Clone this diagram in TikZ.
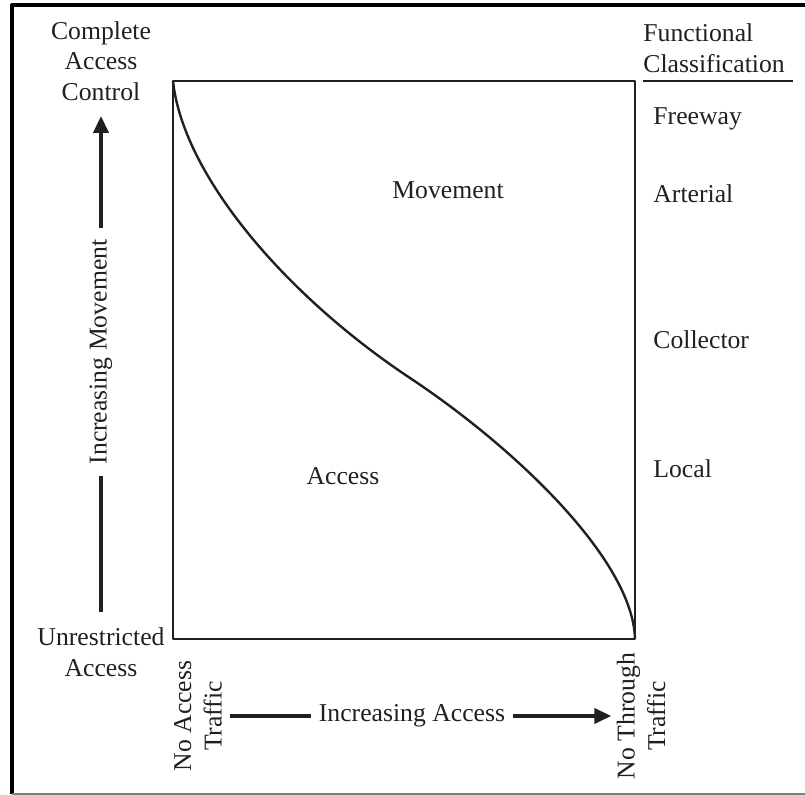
\documentclass[tikz,border=0pt]{standalone}
\usepackage{fontspec}
\setmainfont{Liberation Serif}
\usetikzlibrary{arrows.meta}

\definecolor{ink}{RGB}{35,31,32}

\begin{document}
\begin{tikzpicture}[
        x = 0.5pt, y = -0.5pt,
        line join=round,
        font = \fontsize{12.85}{15.25}\selectfont,
        box/.style = {line width=1.4pt, draw=ink},
        bigline/.style = {line width=2pt, ink},
        bigarrow/.style = {bigline, -{Triangle[length=8.5pt, width=7.5pt]}},
        classlabel/.style = {anchor=base west, inner sep=0pt, text=ink},
        turned/.style = {rotate=90, align=center, text=ink}
    ]

    \useasboundingbox (0,0) rectangle (805,795);

    % outer frame
    \draw[line width=2pt, black] (12,794) -- (12,5) -- (805,5);
    \draw[line width=0.6pt, gray] (12,794) -- (805,794);

        \coordinate (tl) at (173,81);
        \coordinate (tr) at (635,81);
        \coordinate (bl) at (173,639);
        \coordinate (br) at (635,639);
        \coordinate (mid) at (410,378);

    \draw[box] (tl) -- (tr) -- (br) -- (bl) -- cycle;

    \draw[line width=1.2pt, ink] (tl) .. controls (183,175) and (285,295) .. (mid)
        .. controls (515,447.7) and (633,560) .. (br);

    \node[text=ink] (move) at (448,190) {Movement};
    \node[text=ink] (acc) at (343,476) {Access};

    % left axis
    \node[align=center, inner sep=0pt, inner ysep=7.5pt, text=ink] (compl) at (101,61) {Complete\\Access\\Control};
    \node[align=center, inner sep=0pt, inner ysep=7.5pt, text=ink] (unres) at (101,652) {Unrestricted\\Access};
    \node[turned, inner xsep=5.5pt, inner ysep=0pt] (incmov) at (101,352) {Increasing Movement};

    \draw[bigline] (unres.north) -- (incmov.west);
    \draw[bigarrow] (incmov.east) -- (compl.south);

    % bottom axis
    \node[turned, inner xsep=0pt, inner ysep=4pt] (noacc) at (198,716) {No Access\\Traffic};
    \node[turned, inner xsep=0pt, inner ysep=2.5pt] (nothru) at (641,716) {No Through\\Traffic};
    \node[inner xsep=3.5pt, inner ysep=0pt, text=ink] (incacc) at (412,716) {Increasing Access};

    \draw[bigline] (noacc.south) -- (incacc.west);
    \draw[bigarrow] (incacc.east) -- (nothru.north);

    % classification column
    \node[align=left, inner sep=0pt, anchor=west, text=ink] (funcl) at (643,48) {Functional\\Classification};
    \draw[line width=0.6pt, ink] (643,81) -- (793,81);

    \node[classlabel] (free) at (653,125) {Freeway};
    \node[classlabel] (art) at (653,203) {Arterial};
    \node[classlabel] (coll) at (653,349) {Collector};
    \node[classlabel] (loc) at (653,478) {Local};

\end{tikzpicture}
\end{document}
